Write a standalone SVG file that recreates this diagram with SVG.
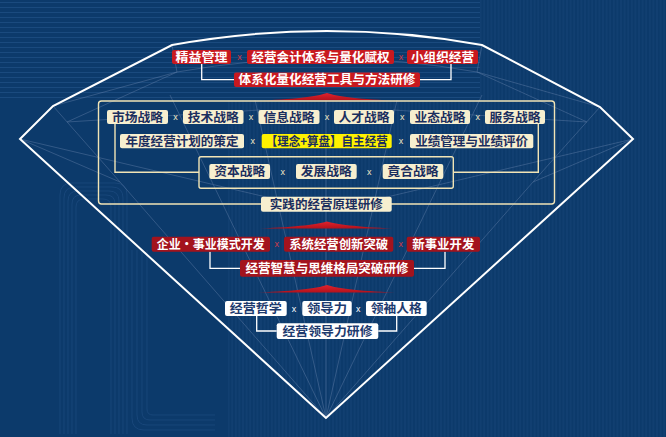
<svg xmlns="http://www.w3.org/2000/svg" width="666" height="437" viewBox="0 0 666 437">
<defs>
<style>
text{font-family:"Noto Sans CJK SC","Noto Sans CJK JP",sans-serif;font-weight:700;font-size:12.5px;text-anchor:middle}
.red{fill:#c8191f}
.dred{fill:#a3131d}
.cream{fill:#f7efcf}
.yel{fill:#fff200}
.wht{fill:#ffffff}
.tw{fill:#ffffff}
.tn{fill:#1b2e5e}
.tb{fill:#1d3a6e}
.xr{fill:#d23a48;font-size:9px;font-weight:400;font-family:"Liberation Sans",sans-serif}
.xc{fill:#f2e8c6;font-size:9px;font-weight:400;font-family:"Liberation Sans",sans-serif}
.xw{fill:#ffffff;font-size:9px;font-weight:400;font-family:"Liberation Sans",sans-serif}
.wl{fill:none;stroke:#ffffff;stroke-width:1.3}
.cl{fill:none;stroke:#f1e4b6;stroke-width:1.4}
.facet{fill:none;stroke:#8fa3c8;stroke-width:0.7;opacity:0.42}
.bgl{fill:none;stroke:#1d4c80;stroke-width:0.9}
</style>
<pattern id="vs" width="3.6" height="10" patternUnits="userSpaceOnUse"><line x1="1.8" y1="0" x2="1.8" y2="10" stroke="#174678" stroke-width="0.9"/></pattern>
<pattern id="hs" width="10" height="5" patternUnits="userSpaceOnUse"><line x1="0" y1="2.5" x2="10" y2="2.5" stroke="#1a4a7e" stroke-width="1"/></pattern>
<linearGradient id="tri" x1="0" y1="0" x2="0" y2="1"><stop offset="0" stop-color="#e0222c"/><stop offset="1" stop-color="#b3121c"/></linearGradient>
</defs>
<!-- background -->
<rect width="666" height="437" fill="#0c3a6b"/>
<rect x="0" y="0" width="480" height="100" fill="url(#hs)"/>
<rect x="480" y="0" width="186" height="437" fill="url(#vs)"/>
<rect x="228" y="100" width="252" height="337" fill="url(#vs)"/>
<g class="bgl" opacity="0.8">
<path d="M60,434 V195 Q60,183 72,183 H115 Q127,183 127,195 V434"/>
<path d="M64,434 V198 Q64,187 75,187 H112 Q123,187 123,198 V434"/>
<path d="M68,434 V201 Q68,191 78,191 H109 Q119,191 119,201 V434"/>
<path d="M72,434 V204 Q72,195 81,195 H106 Q115,195 115,204 V434"/>
<path d="M76,434 V207 Q76,199 84,199 H103 Q111,199 111,207 V434"/>
<path d="M132,250 V418 Q132,430 144,430 H215"/>
<path d="M137,250 V415 Q137,425 147,425 H215"/>
<path d="M142,250 V412 Q142,420 150,420 H215"/>
<path d="M147,250 V409 Q147,415 153,415 H215"/>
</g>
<!-- diamond facets -->
<g id="facets" class="facet">
<path d="M177,72 Q327,45 477,72"/>
<line x1="53" y1="106" x2="177" y2="72"/>
<line x1="600" y1="107" x2="477" y2="72"/>
<line x1="172" y1="45" x2="177" y2="72"/>
<line x1="482" y1="45" x2="477" y2="72"/>
<line x1="67" y1="122" x2="177" y2="72"/>
<line x1="587" y1="122" x2="477" y2="72"/>
<line x1="20" y1="139" x2="120" y2="182"/>
<line x1="53" y1="106" x2="120" y2="182"/>
<line x1="633" y1="139" x2="533" y2="182"/>
<line x1="600" y1="107" x2="533" y2="182"/>
<line x1="20" y1="139" x2="300" y2="205"/>
<line x1="633" y1="139" x2="353" y2="205"/>
<line x1="120" y1="182" x2="326" y2="418"/>
<line x1="533" y1="182" x2="326" y2="418"/>
<line x1="326" y1="418" x2="170" y2="95"/>
<line x1="326" y1="418" x2="255" y2="100"/>
<line x1="326" y1="418" x2="326" y2="100"/>
<line x1="326" y1="418" x2="397" y2="100"/>
<line x1="326" y1="418" x2="482" y2="95"/>
<line x1="67" y1="122" x2="260" y2="110"/>
<line x1="587" y1="122" x2="393" y2="110"/>
</g>
<!-- diamond outline -->
<path id="diamond" d="M326,418 L20,139 L53,106 L172,45 Q327,17 482,45 L600,107 L633,139 Z" fill="none" stroke="#ffffff" stroke-width="2" stroke-linejoin="miter"/>
<!-- red separators -->
<g id="separators">
<path d="M262,100.5 C300,99 318,96 327,93 C336,96 354,99 392,100.5 Z" fill="url(#tri)"/>
<path d="M260,228.5 C298,227 318,224 327,221.5 C336,224 356,227 393,228.5 Z" fill="url(#tri)"/>
<path d="M258,292.5 C298,291 318,288 327,285 C336,288 356,291 395,292.5 Z" fill="url(#tri)"/>
</g>
<!-- frames -->
<rect id="frame-outer" x="98.5" y="101" width="456" height="103" rx="3" class="cl"/>
<rect id="frame-inner" x="199" y="156.7" width="254.3" height="31.6" rx="2" class="cl"/>
<!-- connectors -->
<g id="connectors">
<path class="wl" d="M201.7,64 V79.7 H234 M451,64 V79.7 H420"/>
<path class="cl" d="M115,124 V172.3 H199 M538.3,124 V172.3 H453.3"/>
<path class="wl" d="M210,251.7 V268.3 H240 M445,251.7 V268.3 H414"/>
<path class="wl" d="M256.7,316 V331 H276.7 M396.7,316 V331 H378.3"/>
</g>
<!-- multipliers -->
<g id="times">
<text class="xr" x="239.5" y="60">x</text><text class="xr" x="401" y="60">x</text>
<text class="xc" x="175.5" y="120">x</text><text class="xc" x="251" y="120">x</text><text class="xc" x="327" y="120">x</text><text class="xc" x="402.3" y="120">x</text><text class="xc" x="477.7" y="120">x</text>
<text class="xc" x="252.7" y="144.2">x</text><text class="xc" x="401" y="144.2">x</text>
<text class="xc" x="282.7" y="174.5">x</text><text class="xc" x="369.3" y="174.5">x</text>
<text class="xr" x="276.7" y="247.2">x</text><text class="xr" x="400.7" y="247.2">x</text>
<text class="xw" x="294" y="311.5">x</text><text class="xw" x="358.3" y="311.5">x</text>
</g>
<!-- tier 1 -->
<g id="n-jingyi"><rect class="red" x="172" y="50" width="59" height="14" rx="2"/><text class="tw" x="201.5" y="61.6" textLength="52" lengthAdjust="spacingAndGlyphs">精益管理</text></g>
<g id="n-jykj"><rect class="red" x="247" y="50" width="147" height="14" rx="2"/><text class="tw" x="320.5" y="61.6" textLength="138" lengthAdjust="spacingAndGlyphs">经营会计体系与量化赋权</text></g>
<g id="n-xzz"><rect class="red" x="407" y="50" width="71" height="14" rx="2"/><text class="tw" x="442.5" y="61.6" textLength="63" lengthAdjust="spacingAndGlyphs">小组织经营</text></g>
<g id="t-tixi"><rect class="red" x="234" y="72.5" width="186" height="14.5" rx="2"/><text class="tw" x="327" y="84.4" textLength="177" lengthAdjust="spacingAndGlyphs">体系化量化经营工具与方法研修</text></g>
<!-- tier 2 -->
<g id="n-sc"><rect class="cream" x="107" y="110" width="61" height="14" rx="2"/><text class="tn" x="137.5" y="121.6" textLength="51" lengthAdjust="spacingAndGlyphs">市场战略</text></g>
<g id="n-js"><rect class="cream" x="183" y="110" width="60.5" height="14" rx="2"/><text class="tn" x="213.25" y="121.6" textLength="51" lengthAdjust="spacingAndGlyphs">技术战略</text></g>
<g id="n-xx"><rect class="cream" x="258.5" y="110" width="61" height="14" rx="2"/><text class="tn" x="289" y="121.6" textLength="51" lengthAdjust="spacingAndGlyphs">信息战略</text></g>
<g id="n-rc"><rect class="cream" x="334" y="110" width="60" height="14" rx="2"/><text class="tn" x="364" y="121.6" textLength="51" lengthAdjust="spacingAndGlyphs">人才战略</text></g>
<g id="n-yt"><rect class="cream" x="410" y="110" width="60" height="14" rx="2"/><text class="tn" x="440" y="121.6" textLength="51" lengthAdjust="spacingAndGlyphs">业态战略</text></g>
<g id="n-fw"><rect class="cream" x="485" y="110" width="60" height="14" rx="2"/><text class="tn" x="515" y="121.6" textLength="51" lengthAdjust="spacingAndGlyphs">服务战略</text></g>
<g id="n-nd"><rect class="cream" x="120" y="134" width="124" height="14.3" rx="2"/><text class="tn" x="182" y="145.7" textLength="113" lengthAdjust="spacingAndGlyphs">年度经营计划的策定</text></g>
<g id="n-ln"><rect class="yel" x="261.7" y="134" width="130" height="14.3" rx="2"/><text class="tn" x="326.7" y="145.7" textLength="122" lengthAdjust="spacingAndGlyphs">【理念+算盘】自主经营</text></g>
<g id="n-yj"><rect class="cream" x="410" y="134" width="123.3" height="14.3" rx="2"/><text class="tn" x="471.7" y="145.7" textLength="113" lengthAdjust="spacingAndGlyphs">业绩管理与业绩评价</text></g>
<g id="n-zb"><rect class="cream" x="209.3" y="164" width="60.7" height="15" rx="2"/><text class="tn" x="239.7" y="176" textLength="51" lengthAdjust="spacingAndGlyphs">资本战略</text></g>
<g id="n-fz"><rect class="cream" x="296" y="164" width="60.7" height="15" rx="2"/><text class="tn" x="326.3" y="176" textLength="51" lengthAdjust="spacingAndGlyphs">发展战略</text></g>
<g id="n-jh"><rect class="cream" x="382.7" y="164" width="60.6" height="15" rx="2"/><text class="tn" x="413" y="176" textLength="51" lengthAdjust="spacingAndGlyphs">竟合战略</text></g>
<g id="t-sj"><rect class="cream" x="261" y="196.7" width="130.7" height="15" rx="2"/><text class="tn" x="326.3" y="208.8" textLength="113" lengthAdjust="spacingAndGlyphs">实践的经营原理研修</text></g>
<!-- tier 3 -->
<g id="n-qy"><rect class="dred" x="151.7" y="236.7" width="118.3" height="15" rx="2"/><text class="tw" x="210.8" y="248.8" textLength="108" lengthAdjust="spacingAndGlyphs">企业·事业模式开发</text></g>
<g id="n-xt"><rect class="dred" x="284" y="236.7" width="109.3" height="15" rx="2"/><text class="tw" x="338.7" y="248.8" textLength="99" lengthAdjust="spacingAndGlyphs">系统经营创新突破</text></g>
<g id="n-xsy"><rect class="dred" x="406.7" y="236.7" width="73.3" height="15" rx="2"/><text class="tw" x="443.3" y="248.8" textLength="62" lengthAdjust="spacingAndGlyphs">新事业开发</text></g>
<g id="t-zh"><rect class="dred" x="240" y="260" width="174" height="16.7" rx="2"/><text class="tw" x="327" y="273" textLength="163" lengthAdjust="spacingAndGlyphs">经营智慧与思维格局突破研修</text></g>
<!-- tier 4 -->
<g id="n-zx"><rect class="wht" x="225" y="301" width="61.7" height="15" rx="2"/><text class="tb" x="255.8" y="313.1" textLength="52" lengthAdjust="spacingAndGlyphs">经营哲学</text></g>
<g id="n-ldl"><rect class="wht" x="302.3" y="301" width="49.4" height="15" rx="2"/><text class="tb" x="327" y="313.1" textLength="40" lengthAdjust="spacingAndGlyphs">领导力</text></g>
<g id="n-lx"><rect class="wht" x="366" y="301" width="60.7" height="15" rx="2"/><text class="tb" x="396.3" y="313.1" textLength="51" lengthAdjust="spacingAndGlyphs">领袖人格</text></g>
<g id="t-ld"><rect class="wht" x="276.7" y="323.3" width="101.6" height="15.7" rx="2"/><text class="tb" x="327.5" y="335.8" textLength="90" lengthAdjust="spacingAndGlyphs">经营领导力研修</text></g>
</svg>
